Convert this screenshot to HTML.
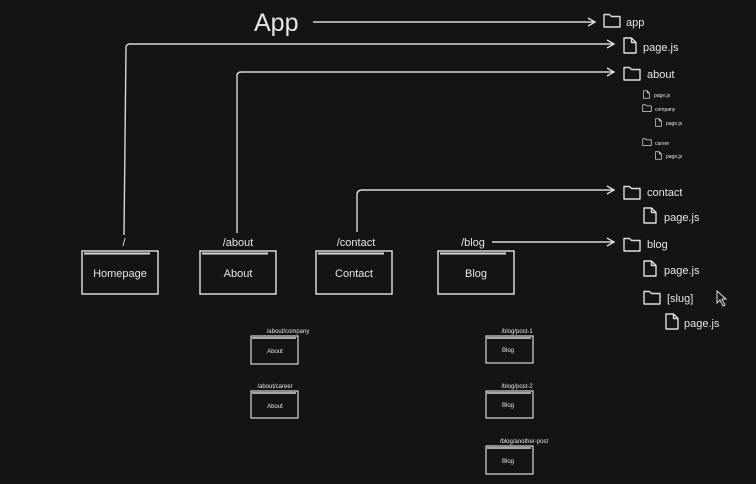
<!DOCTYPE html>
<html><head><meta charset="utf-8"><style>
html,body{margin:0;padding:0;background:#141414;}
svg{display:block}
text{font-family:"Liberation Sans",sans-serif;fill:#e6e6e6}
</style></head><body>
<svg width="756" height="484" viewBox="0 0 756 484" xmlns="http://www.w3.org/2000/svg">
<rect width="756" height="484" fill="#141414"/>
<defs>
<symbol id="fold" viewBox="0 0 18 15"><path d="M1 1.5 H6.5 L8.5 3.5 H17 V14 H1 Z" fill="none" stroke="#ddd" stroke-width="1.4" stroke-linejoin="round"/></symbol>
<symbol id="file" viewBox="0 0 14 17"><path d="M1 1 H8.5 L13 5.5 V16 H1 Z M8.5 1 V5.5 H13" fill="none" stroke="#ddd" stroke-width="1.4" stroke-linejoin="round"/></symbol>
<marker id="ar" markerWidth="10" markerHeight="10" refX="8" refY="5" orient="auto" markerUnits="userSpaceOnUse"><path d="M1 1 L8 5 L1 9" fill="none" stroke="#ddd" stroke-width="1.4"/></marker>
</defs>
<g fill="none" stroke="#d8d8d8" stroke-width="1.4">
<path d="M313 22 H595" marker-end="url(#ar)"/>
<path d="M124 235 L126 48 Q126 44 130 44 H614" marker-end="url(#ar)"/>
<path d="M237 233 V76 Q237 72 241 72 H614" marker-end="url(#ar)"/>
<path d="M357 232 V195 Q357 190 362 190 H614" marker-end="url(#ar)"/>
<path d="M492 242 H614" marker-end="url(#ar)"/>
</g>
<g fill="none" stroke="#d8d8d8" stroke-width="1.5">
<rect x="82" y="251" width="76" height="43"/><line x1="84" y1="253.5" x2="150" y2="253.5" stroke-width="2"/>
<rect x="200" y="251" width="76" height="43"/><line x1="202" y1="253.5" x2="268" y2="253.5" stroke-width="2"/>
<rect x="316" y="251" width="76" height="43"/><line x1="318" y1="253.5" x2="384" y2="253.5" stroke-width="2"/>
<rect x="438" y="251" width="76" height="43"/><line x1="440" y1="253.5" x2="506" y2="253.5" stroke-width="2"/>
<g stroke-width="1.2">
<rect x="251" y="336" width="47" height="28"/><line x1="252" y1="338" x2="296" y2="338" stroke-width="1.6"/>
<rect x="251" y="391" width="47" height="27"/><line x1="252" y1="393" x2="296" y2="393" stroke-width="1.6"/>
<rect x="486" y="336" width="47" height="27"/><line x1="487" y1="338" x2="531" y2="338" stroke-width="1.6"/>
<rect x="486" y="391" width="47" height="27"/><line x1="487" y1="393" x2="531" y2="393" stroke-width="1.6"/>
<rect x="486" y="446" width="47" height="28"/><line x1="487" y1="448" x2="531" y2="448" stroke-width="1.6"/>
</g>
</g>
<text x="254" y="31" font-size="25">App</text>
<g font-size="11" text-anchor="middle">
<text x="124" y="246">/</text>
<text x="238" y="246">/about</text>
<text x="356" y="246">/contact</text>
<text x="473" y="246">/blog</text>
<text x="120" y="277">Homepage</text>
<text x="238" y="277">About</text>
<text x="354" y="277">Contact</text>
<text x="476" y="277">Blog</text>
</g>
<g font-size="6" text-anchor="middle">
<text x="288" y="333">/about/company</text>
<text x="275" y="388">/about/career</text>
<text x="517" y="333">/blog/post-1</text>
<text x="517" y="388">/blog/post-2</text>
<text x="524" y="443">/blog/another-post</text>
<text x="275" y="353">About</text>
<text x="275" y="408">About</text>
<text x="508" y="352">Blog</text>
<text x="508" y="407">Blog</text>
<text x="508" y="463">Blog</text>
</g>
<use href="#fold" x="603" y="13" width="18" height="15"/>
<use href="#file" x="623" y="37" width="14" height="17"/>
<use href="#fold" x="623" y="66" width="18" height="15"/>
<use href="#file" x="643" y="90" width="7" height="9"/>
<use href="#fold" x="642" y="104" width="10" height="8"/>
<use href="#file" x="655" y="118" width="7" height="9"/>
<use href="#fold" x="642" y="138" width="10" height="8"/>
<use href="#file" x="655" y="151" width="7" height="9"/>
<use href="#fold" x="623" y="185" width="18" height="15"/>
<use href="#file" x="643" y="207" width="14" height="17"/>
<use href="#fold" x="623" y="237" width="18" height="15"/>
<use href="#file" x="643" y="260" width="14" height="17"/>
<use href="#fold" x="643" y="290" width="18" height="15"/>
<use href="#file" x="665" y="313" width="14" height="17"/>
<g font-size="11">
<text x="626" y="26">app</text>
<text x="643" y="51">page.js</text>
<text x="647" y="78">about</text>
<text x="647" y="196">contact</text>
<text x="664" y="221">page.js</text>
<text x="647" y="248">blog</text>
<text x="664" y="274">page.js</text>
<text x="667" y="302">[slug]</text>
<text x="684" y="327">page.js</text>
</g>
<g font-size="5">
<text x="654" y="97">page.js</text>
<text x="655" y="111">company</text>
<text x="666" y="125">page.js</text>
<text x="655" y="145">career</text>
<text x="666" y="158">page.js</text>
</g>
<path d="M717 291 V303 L720 300 L723 306 L725 305 L722 299 L726 299 Z" fill="#141414" stroke="#ddd" stroke-width="1"/>
</svg>
</body></html>
